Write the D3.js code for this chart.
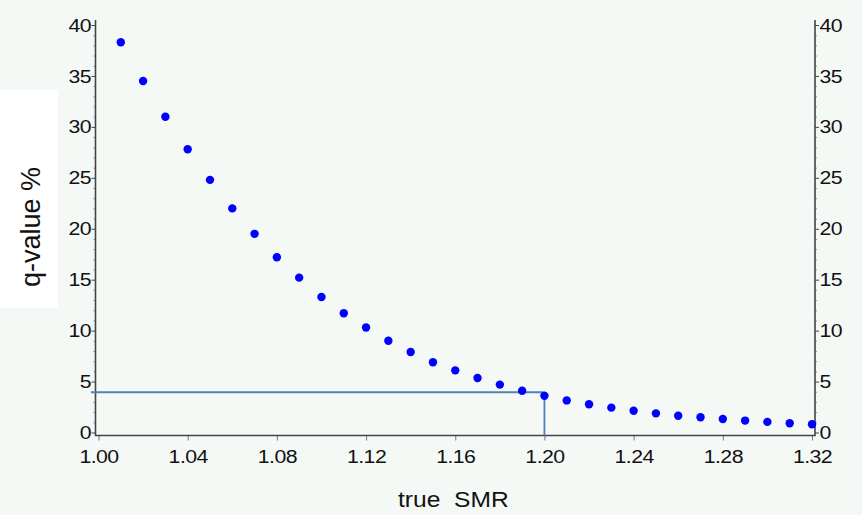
<!DOCTYPE html>
<html>
<head>
<meta charset="utf-8">
<script src="https://cdn.jsdelivr.net/npm/d3@7"></script>
<style>
    html, body { margin: 0; padding: 0; background: #f5f9f6; }
    svg { display: block; }
    .tick text { font-family: "Liberation Sans", Arial, sans-serif; font-size: 19px; fill: #111; letter-spacing: -0.5px; }
    .titulo { font-family: "Liberation Sans", Arial, sans-serif; fill: #111; }
</style>
</head>
<body>
<div id="chart"></div>
<script>
//Datos
const smr = [1.01, 1.02, 1.03, 1.04, 1.05, 1.06, 1.07, 1.08, 1.09, 1.10,
    1.11, 1.12, 1.13, 1.14, 1.15, 1.16, 1.17, 1.18, 1.19, 1.20,
    1.21, 1.22, 1.23, 1.24, 1.25, 1.26, 1.27, 1.28, 1.29, 1.30,
    1.31, 1.32];
const qValue = [38.3, 34.5, 31.0, 27.8, 24.8, 22.0, 19.5, 17.2, 15.2, 13.3,
    11.7, 10.3, 9.0, 7.9, 6.9, 6.1, 5.35, 4.7, 4.1, 3.6,
    3.15, 2.77, 2.44, 2.14, 1.88, 1.65, 1.49, 1.33, 1.17, 1.04,
    0.91, 0.81];
const xTicks = [1.00, 1.04, 1.08, 1.12, 1.16, 1.20, 1.24, 1.28, 1.32];
const yTicks = [0, 5, 10, 15, 20, 25, 30, 35, 40];
const refSMR = 1.20, refQ = 3.95;

//Colores
const COLOR_BG = '#f5f9f6',
    COLOR_DOT = '#0000ff',
    COLOR_REF = '#4f81bd',
    COLOR_AXIS = '#444';

let width = 862, height = 515;

let svg = d3.select('#chart')
    .append('svg')
    .attr('width', width)
    .attr('height', height);

svg.append('rect')
    .attr('width', width)
    .attr('height', height)
    .attr('fill', COLOR_BG);

//Caja blanca del título Y
svg.append('rect')
    .attr('x', 0).attr('y', 90)
    .attr('width', 58).attr('height', 218)
    .attr('fill', '#fff');

//Escalas
let x = d3.scaleLinear()
    .domain([1.00, 1.32])
    .range([98.5, 812]);

let y = d3.scaleLinear()
    .domain([0, 40])
    .range([432.5, 25]);

let axisLeftX = 95.5, axisRightX = 815, axisBottomY = 435.5, axisTopY = 20;

//El texto del original está algo ensanchado
function estirar(g) {
    g.selectAll('text').attr('transform', 'scale(1.12,1)');
}

//Ticks menores eje Y
let minorTicks = d3.range(0, 41).filter(function(d) { return d % 5 !== 0; });

svg.append('g')
    .attr('transform', 'translate(' + axisLeftX + ',0)')
    .call(d3.axisLeft(y).tickValues(minorTicks).tickSize(2).tickFormat(''))
    .call(function(g) { g.select('.domain').remove(); g.selectAll('line').attr('stroke', '#999'); });

svg.append('g')
    .attr('transform', 'translate(' + axisRightX + ',0)')
    .call(d3.axisRight(y).tickValues(minorTicks).tickSize(2).tickFormat(''))
    .call(function(g) { g.select('.domain').remove(); g.selectAll('line').attr('stroke', '#999'); });

//Eje Y izquierdo
svg.append('g')
    .attr('transform', 'translate(' + axisLeftX + ',0)')
    .call(d3.axisLeft(y).tickValues(yTicks).tickSize(4).tickPadding(0))
    .call(function(g) { g.select('.domain').remove(); g.selectAll('line').attr('stroke', COLOR_AXIS); })
    .call(estirar);

//Eje Y derecho
svg.append('g')
    .attr('transform', 'translate(' + axisRightX + ',0)')
    .call(d3.axisRight(y).tickValues(yTicks).tickSize(4).tickPadding(0))
    .call(function(g) { g.select('.domain').remove(); g.selectAll('line').attr('stroke', COLOR_AXIS); })
    .call(estirar);

//Eje X
svg.append('g')
    .attr('transform', 'translate(0,' + axisBottomY + ')')
    .call(d3.axisBottom(x).tickValues(xTicks).tickSize(5).tickPadding(9).tickFormat(d3.format('.2f')))
    .call(function(g) { g.select('.domain').remove(); g.selectAll('line').attr('stroke', '#777'); })
    .call(estirar);

//Líneas de ejes
svg.append('path')
    .attr('d', 'M' + axisLeftX + ',' + axisTopY + 'V' + axisBottomY + 'H' + axisRightX + 'V' + axisTopY)
    .attr('fill', 'none')
    .attr('stroke', COLOR_AXIS)
    .attr('stroke-width', 1.6);

//Línea de referencia
svg.append('path')
    .attr('d', 'M91,' + y(refQ) + 'H' + x(refSMR) + 'V' + axisBottomY)
    .attr('fill', 'none')
    .attr('stroke', COLOR_REF)
    .attr('stroke-width', 1.8);

//Puntos
svg.append('g')
    .selectAll('circle')
    .data(smr)
    .enter()
    .append('circle')
    .attr('cx', function(d) { return x(d); })
    .attr('cy', function(d, i) { return y(qValue[i]); })
    .attr('r', 4.2)
    .attr('fill', COLOR_DOT);

//Títulos
svg.append('text')
    .attr('class', 'titulo')
    .attr('transform', 'translate(398,507) scale(1.12,1)')
    .attr('font-size', 22)
    .attr('xml:space', 'preserve')
    .style('white-space', 'pre')
    .text('true  SMR');

svg.append('text')
    .attr('class', 'titulo')
    .attr('transform', 'translate(40,227) rotate(-90)')
    .attr('text-anchor', 'middle')
    .attr('font-size', 27)
    .text('q-value %');
</script>
</body>
</html>
